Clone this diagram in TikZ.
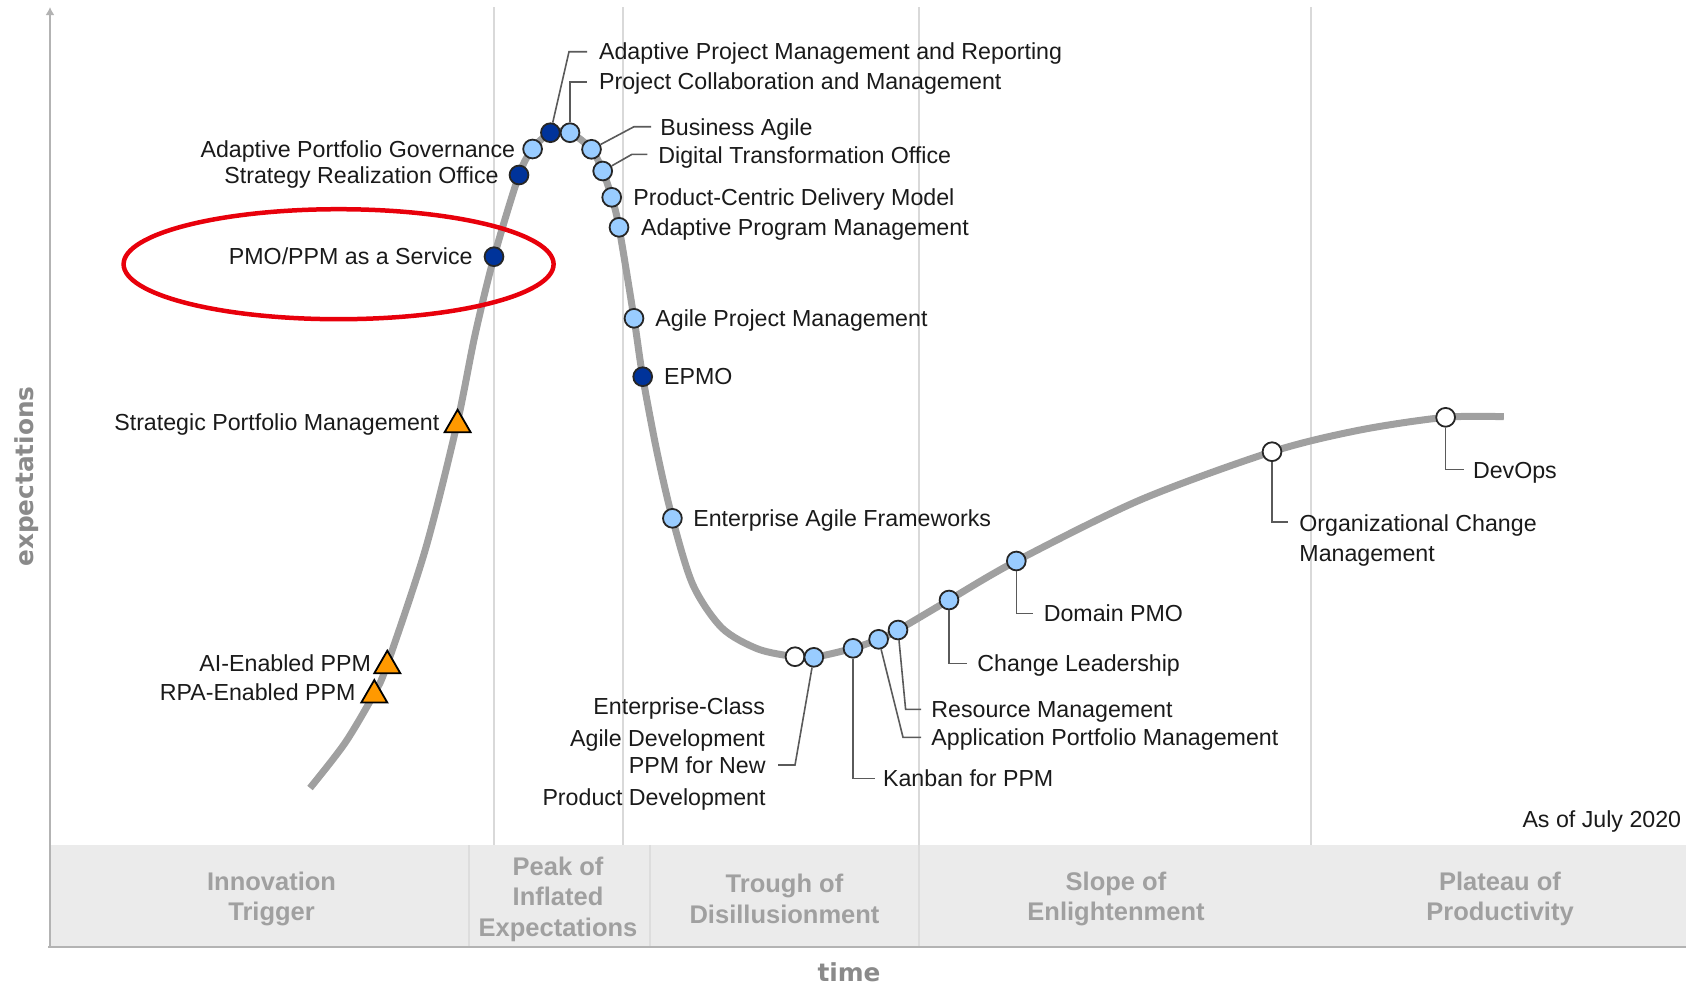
\documentclass[tikz,border=0pt]{standalone}
\usepackage{fontspec}
\setmainfont{Liberation Sans}
\newfontfamily\axisfont{DejaVu Sans}
\usetikzlibrary{shapes.geometric,calc,arrows.meta}

\definecolor{curvec}{HTML}{A0A0A0}
\definecolor{navydot}{HTML}{00339A}
\definecolor{skydot}{HTML}{99CCFF}
\definecolor{trifill}{HTML}{FF9900}
\definecolor{sepc}{HTML}{D9D9D9}
\definecolor{bandc}{HTML}{EBEBEB}
\definecolor{bandsep}{HTML}{DDDDDD}
\definecolor{bandtext}{HTML}{A0A0A0}
\definecolor{axisc}{HTML}{B3B3B3}
\definecolor{axistext}{HTML}{8A8A8A}
\definecolor{leaderc}{HTML}{5A5A5A}
\definecolor{textc}{HTML}{1A1A1A}
\definecolor{hlred}{HTML}{E8000B}

\newcommand\lblfont{\fontsize{11.6}{15.8}\selectfont}
\newcommand\bandfont{\bfseries\fontsize{12.75}{15.2}\selectfont}
\newcommand\axlfont{\axisfont\bfseries\fontsize{12.4}{15}\selectfont}

\begin{document}
\begin{tikzpicture}[x=0.5pt,y=-0.5pt,
  dot/.style={circle,draw=black!85,line width=0.9pt,minimum size=9.4pt,inner sep=0pt},
  dotdark/.style={dot,fill=navydot},
  dotlight/.style={dot,fill=skydot},
  dotwhite/.style={dot,fill=white},
  tri/.style={regular polygon,regular polygon sides=3,draw=black,fill=trifill,line width=0.9pt,minimum size=15pt,inner sep=0pt},
  lbl/.style={font=\lblfont,text=textc,inner sep=0pt},
  leader/.style={draw=leaderc,line width=0.8pt},
  bandlbl/.style={font=\bandfont,text=bandtext,align=center,inner sep=0pt},
  sepline/.style={draw=sepc,line width=1pt},
  hump/.style={draw=curvec,line width=3.5pt}
]
\useasboundingbox (0,0) rectangle (1689,986);

% phase band
\fill[bandc] (50,845) rectangle (1686,947);
\foreach \xx in {469,650,919} \draw[bandsep,line width=0.6pt] (\xx,845) -- (\xx,947);

% phase separators
\foreach \xx in {494,623,919,1311} \draw[sepline] (\xx,7) -- (\xx,845);

% axes
\draw[axisc,line width=1.3pt] (48,947) -- (1686,947);
\draw[axisc,line width=1.3pt,-{Latex[length=4pt,width=4.5pt]}] (50,947) -- (50,7);

% hype curve
\draw[hump] plot[smooth,tension=0.5] coordinates {
 (310,788) (345,743) (374,694) (387,665) (425.5,549) (457,424) (475,335) (494,257)
 (519,175) (532.6,149) (550.4,132.7) (570,132.7) (591.5,149.3) (602.7,171)
 (611.7,197.3) (619,227.3) (634,318.3) (642.7,376.7) (657,452) (672.4,518.3)
 (693,585) (722,628) (758,649) (795,656.7) (813.8,657.3) (853,648.3) (878.6,639.3)
 (898,630) (949,600) (1016.3,561) (1140,500) (1272,451.7) (1360,430)
 (1445.6,417.3) (1503.8,416.7)};

% markers
\node[dotlight] (c-apg) at (532.6,149) {};
\node[dotdark]  (c-apmr) at (550.4,132.7) {};
\node[dotlight] (c-pcm) at (570,132.7) {};
\node[dotlight] (c-ba) at (591.5,149.3) {};
\node[dotlight] (c-dto) at (602.7,171) {};
\node[dotlight] (c-pcdm) at (611.7,197.3) {};
\node[dotlight] (c-apm) at (619,227.3) {};
\node[dotlight] (c-agpm) at (634,318.3) {};
\node[dotdark]  (c-epmo) at (642.7,376.7) {};
\node[dotdark]  (c-sro) at (519,175) {};
\node[dotdark]  (c-pmo) at (494,256.7) {};
\node[dotlight] (c-eaf) at (672.4,518.3) {};
\node[dotwhite] (c-ecad) at (795,656.7) {};
\node[dotlight] (c-ppmn) at (813.8,657.3) {};
\node[dotlight] (c-kan) at (853,648.3) {};
\node[dotlight] (c-appm) at (878.6,639.3) {};
\node[dotlight] (c-rm) at (898,630) {};
\node[dotlight] (c-cl) at (949,600) {};
\node[dotlight] (c-dpmo) at (1016.3,561) {};
\node[dotwhite] (c-ocm) at (1272,451.7) {};
\node[dotwhite] (c-devops) at (1445.6,417.3) {};
\node[tri] (c-spm) at (457.6,424.7) {};
\node[tri] (c-ai) at (387.3,665.7) {};
\node[tri] (c-rpa) at (374.3,695) {};

% labels, right of markers
\node[lbl,anchor=base west] (t-apmr) at (598.7,59.7) {Adaptive Project Management and Reporting};
\node[lbl,anchor=base west] (t-pcm) at (598.7,89.7) {Project Collaboration and Management};
\node[lbl,anchor=base west] (t-ba) at (660,135.7) {Business Agile};
\node[lbl,anchor=base west] (t-dto) at (658,163) {Digital Transformation Office};
\node[lbl,anchor=base west] (t-pcdm) at (633,205.3) {Product-Centric Delivery Model};
\node[lbl,anchor=base west] (t-apm) at (640.8,235.3) {Adaptive Program Management};
\node[lbl,anchor=base west] (t-agpm) at (655,326.3) {Agile Project Management};
\node[lbl,anchor=base west] (t-epmo) at (663.8,384.7) {EPMO};
\node[lbl,anchor=base west] (t-eaf) at (692.9,526.3) {Enterprise Agile Frameworks};
\node[lbl,anchor=base west] (t-dpmo) at (1043.4,621.3) {Domain PMO};
\node[lbl,anchor=base west] (t-cl) at (977,671.3) {Change Leadership};
\node[lbl,anchor=base west] (t-rm) at (931,717.3) {Resource Management};
\node[lbl,anchor=base west] (t-appm) at (931,745.3) {Application Portfolio Management};
\node[lbl,anchor=base west] (t-kan) at (882.7,786.3) {Kanban for PPM};
\node[lbl,anchor=base west] (t-devops) at (1472.6,478) {DevOps};
\node[lbl,anchor=west,align=left,font=\fontsize{11.6}{15.3}\selectfont] (t-ocm) at (1299,540.3) {Organizational Change\\Management};

% labels, left of markers
\node[lbl,anchor=base east] (t-apg) at (515.6,157) {Adaptive Portfolio Governance};
\node[lbl,anchor=base east] (t-sro) at (499,183) {Strategy Realization Office};
\node[lbl,anchor=base east] (t-pmo) at (473,264.7) {PMO/PPM as a Service};
\node[lbl,anchor=base east] (t-spm) at (439.7,430.7) {Strategic Portfolio Management};
\node[lbl,anchor=base east] (t-ai) at (371.4,671.3) {AI-Enabled PPM};
\node[lbl,anchor=base east] (t-rpa) at (355.8,700.7) {RPA-Enabled PPM};
\node[lbl,anchor=east,align=right] (t-ecad) at (765.3,724.2) {Enterprise-Class\\Agile Development};
\node[lbl,anchor=east,align=right] (t-ppmn) at (766,783.2) {PPM for New\\Product Development};

% leader ends
\coordinate (e-apmr) at (587,51.7);
\coordinate (e-pcm) at (587,81.7);
\coordinate (e-ba) at (651,126.7);
\coordinate (e-dto) at (647.3,154.3);
\coordinate (e-dpmo) at (1033,613.3);
\coordinate (e-cl) at (966.8,663.3);
\coordinate (e-rm) at (921,709.3);
\coordinate (e-appm) at (921,737.3);
\coordinate (e-kan) at (875,778.3);
\coordinate (e-ppmn) at (778,765);
\coordinate (e-ocm) at (1288,521.7);
\coordinate (e-devops) at (1463.6,469.3);

% leaders
\draw[leader] (c-apmr) -- (569,51.7) -- (e-apmr);
\draw[leader] (c-pcm) |- (e-pcm);
\draw[leader] (c-ba) -- (634,126.7) -- (e-ba);
\draw[leader] (c-dto) -- (632,154.3) -- (e-dto);
\draw[leader] (c-dpmo) |- (e-dpmo);
\draw[leader] (c-cl) |- (e-cl);
\draw[leader] (c-rm) -- (905.6,709.3) -- (e-rm);
\draw[leader] (c-appm) -- (903,737.3) -- (e-appm);
\draw[leader] (c-kan) |- (e-kan);
\draw[leader] (c-ppmn) -- (795,765) -- (e-ppmn);
\draw[leader] (c-ocm) |- (e-ocm);
\draw[leader] (c-devops) |- (e-devops);

% highlight ellipse
\node[ellipse,draw=hlred,line width=2.25pt,minimum width=215pt,minimum height=55pt,inner sep=0pt] (hl) at (338.6,264.2) {};

% date
\node[lbl,anchor=base east] (asof) at (1681.5,827.5) {As of July 2020};

% phase names
\node[bandlbl] (p1) at (271.6,899) {Innovation\\Trigger};
\node[bandlbl] (p2) at (558,899) {Peak of\\Inflated\\Expectations};
\node[bandlbl] (p3) at (784.5,899) {Trough of\\Disillusionment};
\node[bandlbl] (p4) at (1116,899) {Slope of\\Enlightenment};
\node[bandlbl] (p5) at (1500,899) {Plateau of\\Productivity};

% axis titles
\node[font=\axlfont,text=axistext,rotate=90,inner sep=0pt] (ylab) at (27,476.5) {expectations};
\node[font=\axlfont,text=axistext,inner sep=0pt] (xlab) at (849,972.6) {time};
\end{tikzpicture}
\end{document}
